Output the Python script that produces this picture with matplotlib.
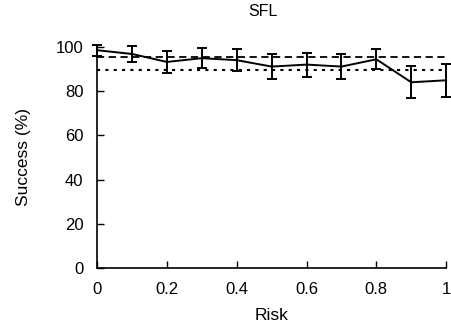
import numpy as np
import matplotlib.pyplot as plt

plt.rcParams['font.family'] = ['Liberation Sans', 'DejaVu Sans']

# Data
risk = [0.0, 0.1, 0.2, 0.3, 0.4, 0.5, 0.6, 0.7, 0.8, 0.9, 1.0]
success = [98.5, 96.8, 93.2, 94.9, 94.0, 91.1, 92.0, 91.1, 94.4, 84.0, 84.9]
err = [2.5, 3.7, 5.1, 4.5, 5.0, 5.7, 5.4, 5.7, 4.5, 7.2, 7.4]
dashed_level = 95.5
dotted_level = 89.5

fig = plt.figure(figsize=(4.52, 3.28), dpi=100)
ax = fig.add_axes([0.215, 0.183, 0.772, 0.674])

ax.axhline(dashed_level, color='black', linestyle=(0, (4, 2.5)), linewidth=1.3)
ax.axhline(dotted_level, color='black', linestyle=(0, (1.5, 2.5)), linewidth=1.5)
ax.errorbar(risk, success, yerr=err, color='black', linewidth=1.4,
            elinewidth=1.4, capsize=3.5, capthick=1.4, clip_on=False)

ax.set_xlim(0, 1)
ax.set_ylim(0, 100)
ax.set_xticks([0, 0.2, 0.4, 0.6, 0.8, 1.0])
ax.set_xticklabels(['0', '0.2', '0.4', '0.6', '0.8', '1'])
ax.set_yticks([0, 20, 40, 60, 80, 100])
ax.tick_params(direction='in', labelsize=12, length=5, width=1)
ax.tick_params(axis='x', pad=10)
ax.tick_params(axis='y', pad=10)
for s in ['top', 'right']:
    ax.spines[s].set_visible(False)
for s in ['left', 'bottom']:
    ax.spines[s].set_linewidth(1.2)

ax.set_xlabel('Risk', fontsize=12.5, labelpad=8)
ax.set_ylabel('Success (%)', fontsize=12.5, labelpad=18)
ax.set_title('SFL', fontsize=11.5, pad=22, x=0.475)

fig.savefig('out.png', dpi=100)
